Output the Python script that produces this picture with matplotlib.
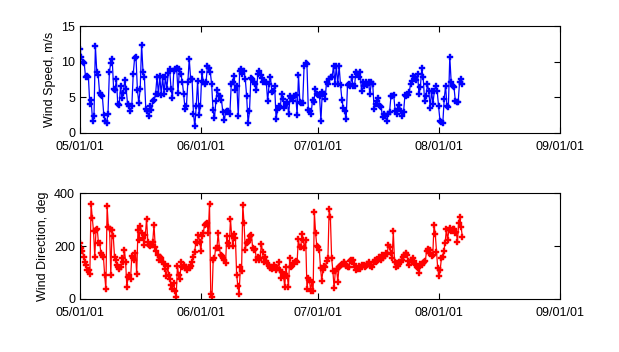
import numpy as np
import pandas as pd
import matplotlib
matplotlib.use("Agg")
import matplotlib.pyplot as plt
import matplotlib.dates as mdates

plt.rcParams['font.family'] = ['Liberation Sans', 'DejaVu Sans']

# wind speed, m/s (roughly every 8 h)
speed = [11.8, 10.6, 9.9, 9.8, 7.8, 8.0, 7.9, 4.0, 4.6, 1.6, 2.3, 12.2, 8.6, 8.1,
         5.6, 5.3, 5.1, 2.5, 1.7, 1.3, 2.7, 8.6, 9.8, 10.4, 6.2, 6.0, 7.5, 4.0,
         3.9, 6.5, 4.9, 5.6, 7.4, 6.1, 4.0, 3.7, 3.0, 3.7, 8.2, 10.5, 10.6, 6.0,
         4.2, 6.2, 12.4, 8.6, 7.8, 3.3, 3.0, 2.3, 3.7, 3.2, 4.5, 4.6, 5.5, 7.9,
         5.4, 8.0, 5.3, 7.9, 5.5, 7.9, 6.1, 8.4, 9.0, 6.2, 4.9, 8.7, 9.0, 9.1,
         5.6, 9.0, 8.3, 7.2, 5.5, 3.3, 3.8, 7.2, 10.4, 7.6, 7.6, 2.7, 0.9, 3.8,
         7.3, 2.5, 3.7, 8.6, 7.2, 6.9, 7.1, 9.4, 9.1, 8.6, 6.8, 3.2, 2.0, 4.4,
         6.0, 5.2, 5.1, 4.6, 2.9, 1.8, 2.9, 3.0, 3.0, 2.7, 6.8, 7.2, 8.0, 6.0,
         6.6, 2.3, 8.7, 9.0, 8.3, 8.7, 7.6, 5.1, 1.3, 3.0, 7.7, 7.6, 7.1, 6.9,
         6.0, 8.3, 8.7, 8.1, 7.7, 7.1, 7.1,
         7.1, 4.4, 6.8, 7.8, 5.7, 5.9, 6.5, 1.9, 3.2, 3.8, 3.6, 5.5, 4.7, 3.5,
         4.0, 4.3, 2.6, 5.1, 4.9, 4.5, 5.2, 5.3, 2.5, 8.1, 4.3, 4.2, 4.2, 9.4,
         9.8, 9.7, 3.2, 3.0, 2.6, 4.6, 4.3, 6.2, 5.4, 5.3, 5.2, 1.7, 5.7, 5.5,
         4.7, 7.1, 6.9, 7.6, 7.8, 7.8, 9.4, 6.9, 9.4, 6.8, 9.4, 6.7, 4.6, 3.5,
         3.0, 1.9, 6.7, 6.8, 6.5, 7.9, 6.6, 6.6, 8.6, 8.3, 7.8, 8.5, 5.9, 7.1,
         6.5, 7.1, 6.7, 7.1, 5.4, 7.1, 6.8, 3.3, 4.1, 4.4, 4.9, 3.7, 3.6, 2.2,
         2.6, 2.4, 1.6, 2.7, 2.9, 5.1, 5.1, 5.3, 3.0, 2.6, 3.3, 3.9, 3.0, 2.3,
         2.9, 5.3, 5.2, 5.3, 5.7, 6.8, 7.3, 8.0, 7.8, 7.4, 8.3, 5.4, 6.4, 9.1,
         7.8, 4.5, 5.1, 6.8, 5.9, 3.5, 5.9, 4.1, 5.9, 6.6, 5.9, 3.7, 1.7, 1.5,
         1.3, 4.7, 6.6, 3.7, 3.6, 10.7, 7.1, 6.6, 6.4, 4.4, 4.3, 4.3, 7.2, 7.6,
         6.9]

# wind direction, deg
direction = [211, 192, 183, 160, 141, 129, 110, 110, 93, 360, 305, 255, 160, 261,
             264, 211, 211, 173, 167, 160, 91, 37, 352, 271, 264, 91, 259, 236,
             160, 148, 129, 119, 112, 120, 154, 138, 186, 141, 44, 82, 91, 74,
             163, 154, 148, 173, 95, 261, 223, 276, 249, 230, 204, 242, 303, 217,
             204, 200, 204, 217, 281, 198, 183, 167, 148, 160, 154, 141, 133, 112,
             85, 125, 91, 74, 53, 37, 59, 32, 9, 125, 91, 74, 138, 122, 129, 116,
             122, 110, 120, 116, 125, 141, 160, 179, 217, 211, 242, 217, 183, 236,
             249, 281, 283, 286, 249, 360, 19, 6, 148, 154, 192, 192, 249, 192,
             167, 163, 154, 148, 135, 236, 213, 200, 302, 236, 200, 246, 230, 91,
             49, 19, 120, 107, 356, 286, 186, 211, 217, 223, 236, 242, 192, 186,
             189, 148, 160, 148, 154, 208, 179, 138, 160, 145, 135, 125, 116, 122,
             112, 129, 120, 110, 116,
             138, 110, 78, 103, 85, 47, 120, 87, 47, 154, 122, 125, 135, 138,
             145, 138, 226, 196, 198, 246, 223, 192, 223, 37, 78, 72, 32, 66, 30,
             328, 249, 200, 196, 186, 116, 69, 110, 125, 122, 145, 154, 340, 308,
             154, 107, 40, 107, 112, 66, 120, 125, 129, 133, 138, 133, 125, 120,
             120, 145, 148, 148, 133, 122, 110, 115, 125, 112, 120, 129, 129, 122,
             125, 133, 138, 125, 129, 122, 138, 148, 141, 145, 160, 154, 148, 167,
             154, 163, 173, 170, 204, 196, 173, 154, 255, 141, 120, 135, 125, 138,
             141, 148, 160, 167, 175, 167, 145, 129, 148, 141, 154, 145, 129, 120,
             116, 100, 133, 129, 135, 138, 145, 183, 189, 173, 186, 163, 167, 280,
             246, 179, 116, 85, 110, 154, 160, 183, 211, 264, 223, 259, 268, 255,
             264, 264, 249, 252, 217, 286, 309, 271, 233]

t_start = pd.Timestamp('2001-05-01 00:00')
t_end = pd.Timestamp('2001-08-07 00:00')
t_speed = pd.date_range(t_start, t_end, periods=len(speed))
t_dir = pd.date_range(t_start, t_end, periods=len(direction))

fig = plt.figure(figsize=(6.19, 3.52), dpi=100)
ax1 = fig.add_axes([0.1292, 0.623, 0.7754, 0.303])
ax2 = fig.add_axes([0.1292, 0.1506, 0.7754, 0.301])

ax1.plot(t_speed, speed, '-', color='blue', lw=0.9, marker='P', ms=5,
         mec='blue', mfc='blue', mew=0.3)
ax2.plot(t_dir, direction, '-', color='red', lw=0.9, marker='P', ms=5,
         mec='red', mfc='red', mew=0.3)

ax1.set_ylim(0, 15)
ax1.set_yticks([0, 5, 10, 15])
ax2.set_ylim(0, 400)
ax2.set_yticks([0, 200, 400])
ax1.set_ylabel('Wind Speed, m/s', fontsize=9)
ax2.set_ylabel('Wind Direction, deg', fontsize=9)

for ax in (ax1, ax2):
    ax.set_xlim(pd.Timestamp('2001-05-01'), pd.Timestamp('2001-09-01'))
    ax.xaxis.set_major_locator(mdates.MonthLocator())
    ax.xaxis.set_major_formatter(mdates.DateFormatter('%m/%d/%y'))
    ax.tick_params(direction='in', length=4, width=0.8, labelsize=9,
                   top=True, right=True)
    ax.tick_params(axis='x', pad=6)
    for s in ax.spines.values():
        s.set_linewidth(0.8)

fig.savefig('out.png', dpi=100)
